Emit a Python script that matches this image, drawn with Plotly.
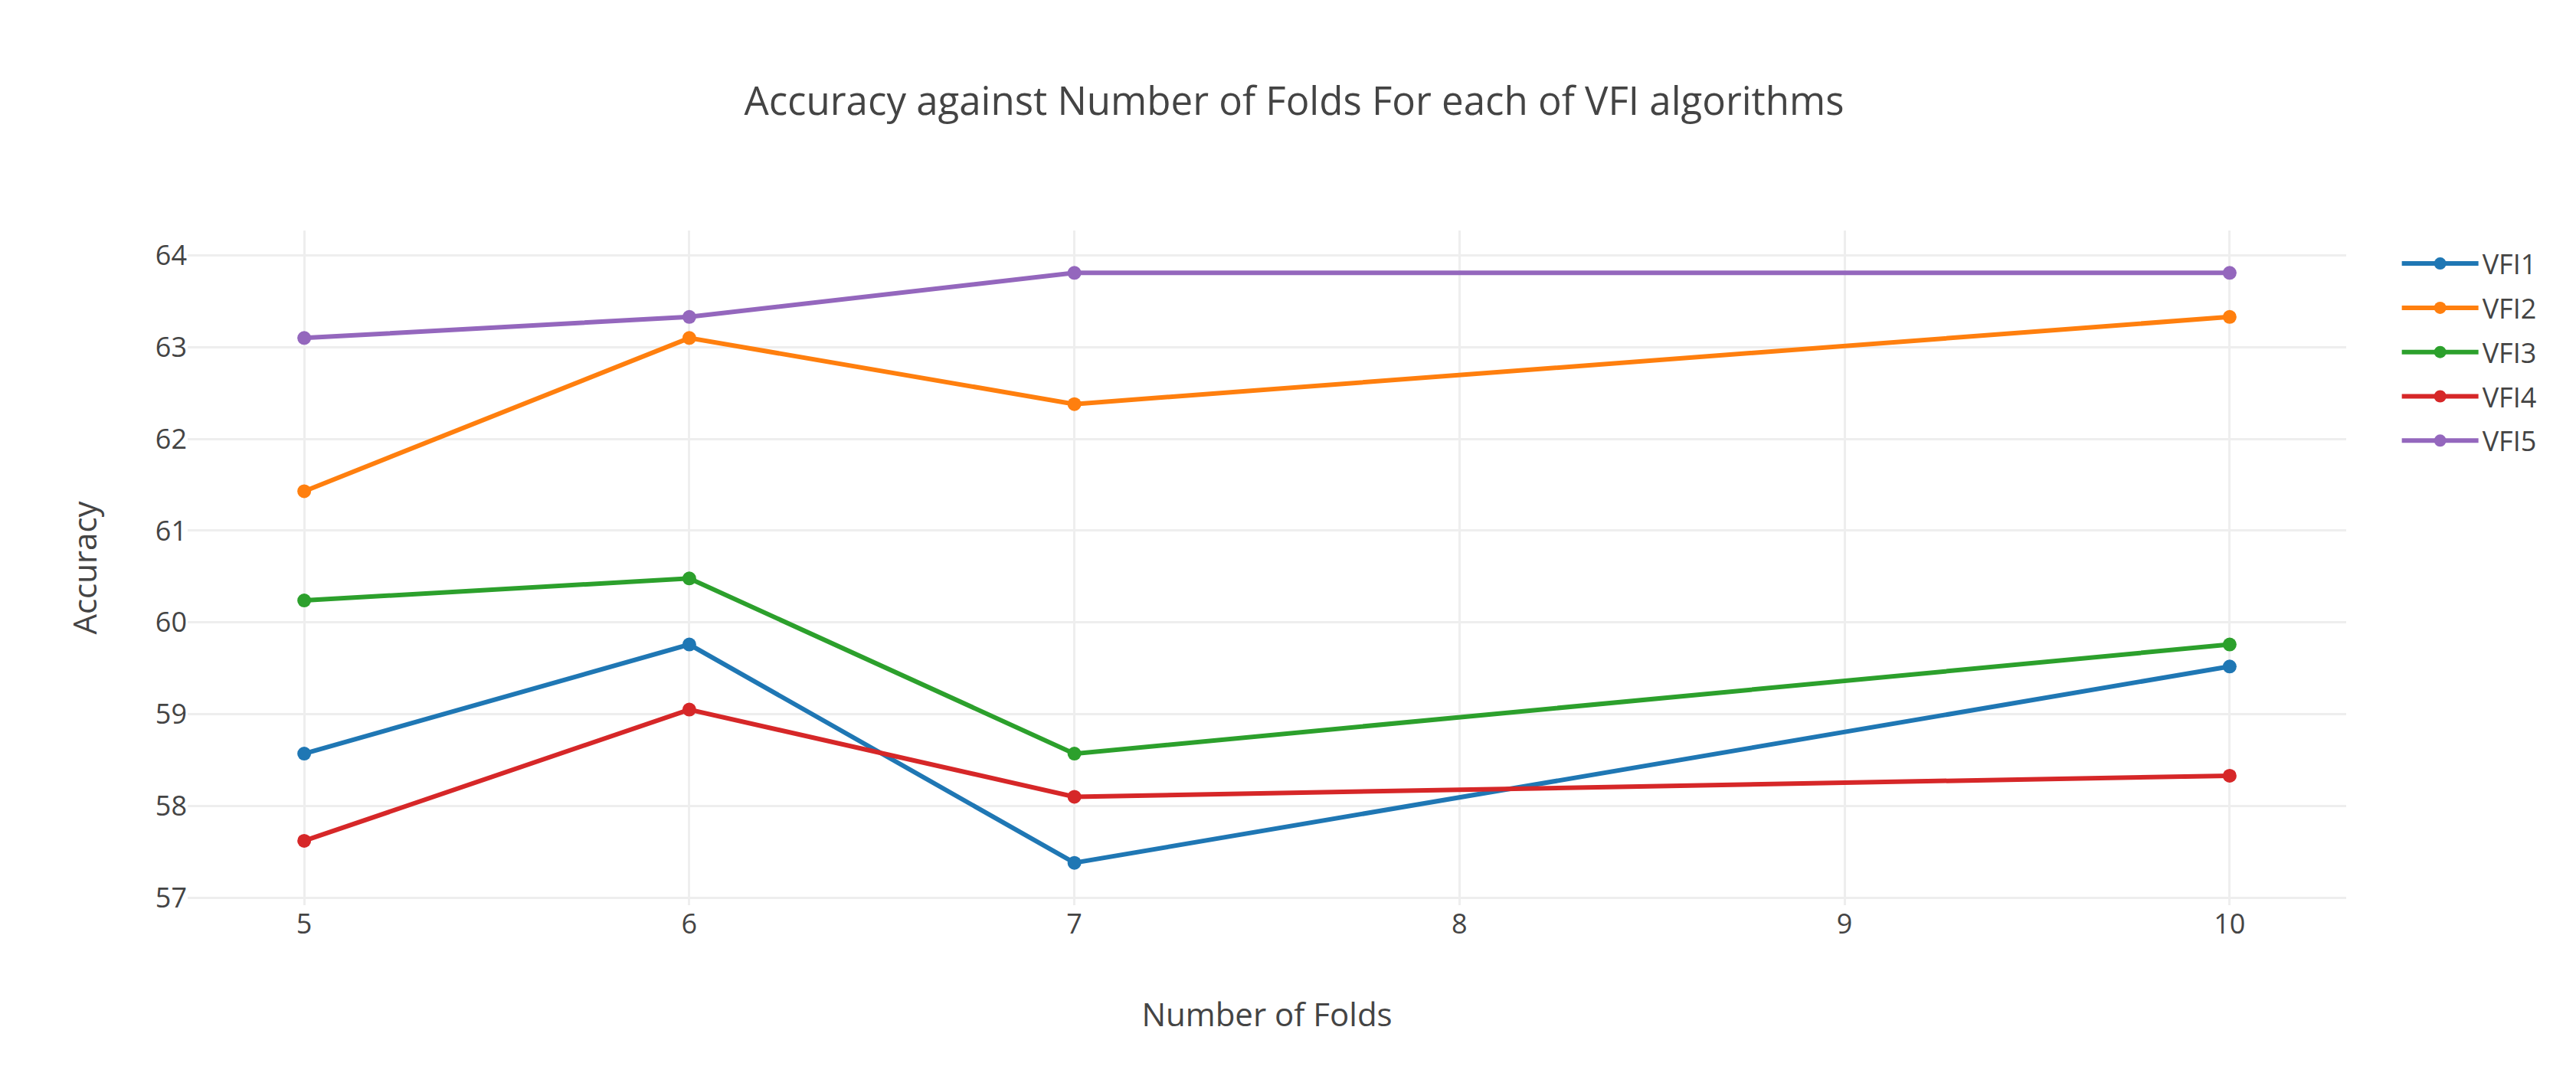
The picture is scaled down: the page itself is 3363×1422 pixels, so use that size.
import plotly.graph_objects as go

folds = [5, 6, 7, 10]
series_names = ["VFI1", "VFI2", "VFI3", "VFI4", "VFI5"]
vfi1 = [58.57, 59.76, 57.38, 59.52]
vfi2 = [61.43, 63.10, 62.38, 63.33]
vfi3 = [60.24, 60.48, 58.57, 59.76]
vfi4 = [57.62, 59.05, 58.10, 58.33]
vfi5 = [63.10, 63.33, 63.81, 63.81]
colores = ["#1f77b4", "#ff7f0e", "#2ca02c", "#d62728", "#9467bd"]

fig = go.Figure()
for nombre, valores, color in zip(series_names, [vfi1, vfi2, vfi3, vfi4, vfi5], colores):
    fig.add_trace(go.Scatter(
        x=folds, y=valores, name=nombre, mode="lines+markers",
        legendgroup=nombre,
        line=dict(color=color, width=6),
        marker=dict(color=color, size=18),
    ))

fig.update_layout(
    width=3363, height=1422,
    template="none",
    paper_bgcolor="white", plot_bgcolor="white",
    font=dict(family="Open Sans", size=36, color="#444"),
    title=dict(
        text="Accuracy against Number of Folds For each of VFI algorithms",
        font=dict(size=51, color="#444"),
        x=0.5, xanchor="center", y=1 - 124.5 / 1422, yref="container", yanchor="middle",
    ),
    # la pagina deja 8px de margen en body
    margin=dict(l=237, r=308, t=293, b=248),
    legend=dict(font=dict(size=36), x=1.024, y=0.985, xanchor="left", yanchor="top",
                itemwidth=100, tracegroupgap=8),
    showlegend=True,
)
fig.update_xaxes(
    title=dict(text="Number of Folds", font=dict(size=42), standoff=81),
    dtick=1, gridcolor="#eee", gridwidth=3, zeroline=False, showline=False,
    ticks="", tickfont=dict(size=36),
)
fig.update_yaxes(
    title=dict(text="Accuracy", font=dict(size=42), standoff=63),
    dtick=1, gridcolor="#eee", gridwidth=3, zeroline=False, showline=False,
    ticks="", tickfont=dict(size=36),
)

fig.write_html("out.html")
